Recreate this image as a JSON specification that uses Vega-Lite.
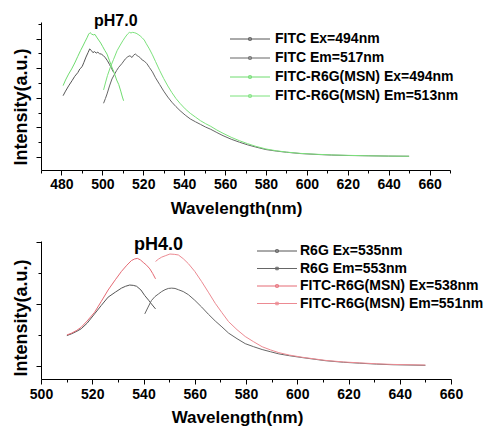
{
  "$schema": "https://vega.github.io/schema/vega-lite/v6.json",
  "padding": {"left": 11, "top": 13, "right": 5, "bottom": 3},
  "background": "white",
  "bounds": "flush",
  "spacing": 71,
  "config": {
    "view": {"stroke": null},
    "font": "Liberation Sans",
    "axis": {"grid": false, "domainColor": "#000", "tickColor": "#000", "labelColor": "#000", "titleColor": "#000", "labelFont": "Liberation Sans", "titleFont": "Liberation Sans", "labelFontWeight": "bold", "titleFontWeight": "bold", "domainWidth": 1, "tickWidth": 1}
  },
  "resolve": {"scale": {"color": "independent"}},
  "datasets": {
    "top": [
      {"s":"FITC Ex=494nm","wl":480.8,"v":4.14},{"s":"FITC Ex=494nm","wl":482,"v":4.45},{"s":"FITC Ex=494nm","wl":483.5,"v":4.8},{"s":"FITC Ex=494nm","wl":485.2,"v":5.16},{"s":"FITC Ex=494nm","wl":486.5,"v":5.45},{"s":"FITC Ex=494nm","wl":488,"v":5.7},{"s":"FITC Ex=494nm","wl":489,"v":5.95},{"s":"FITC Ex=494nm","wl":490.1,"v":6.1},{"s":"FITC Ex=494nm","wl":491,"v":6.4},{"s":"FITC Ex=494nm","wl":492,"v":6.75},{"s":"FITC Ex=494nm","wl":493,"v":7.05},{"s":"FITC Ex=494nm","wl":493.8,"v":7.3},{"s":"FITC Ex=494nm","wl":494.6,"v":7.2},{"s":"FITC Ex=494nm","wl":495.4,"v":7.05},{"s":"FITC Ex=494nm","wl":496.2,"v":7.12},{"s":"FITC Ex=494nm","wl":497,"v":7.02},{"s":"FITC Ex=494nm","wl":497.8,"v":7.08},{"s":"FITC Ex=494nm","wl":498.6,"v":6.98},{"s":"FITC Ex=494nm","wl":499.5,"v":6.95},{"s":"FITC Ex=494nm","wl":500.5,"v":6.85},{"s":"FITC Ex=494nm","wl":501.5,"v":6.7},{"s":"FITC Ex=494nm","wl":502.5,"v":6.5},{"s":"FITC Ex=494nm","wl":503.5,"v":6.25},{"s":"FITC Ex=494nm","wl":504.5,"v":5.98},{"s":"FITC Ex=494nm","wl":505.5,"v":5.72},
      {"s":"FITC Em=517nm","wl":500.6,"v":3.63},{"s":"FITC Em=517nm","wl":501.5,"v":3.95},{"s":"FITC Em=517nm","wl":502.3,"v":4.26},{"s":"FITC Em=517nm","wl":503.5,"v":4.8},{"s":"FITC Em=517nm","wl":504.7,"v":5.27},{"s":"FITC Em=517nm","wl":506,"v":5.6},{"s":"FITC Em=517nm","wl":507,"v":5.85},{"s":"FITC Em=517nm","wl":508,"v":6.06},{"s":"FITC Em=517nm","wl":509.5,"v":6.3},{"s":"FITC Em=517nm","wl":511.2,"v":6.62},{"s":"FITC Em=517nm","wl":512.5,"v":6.78},{"s":"FITC Em=517nm","wl":513.5,"v":6.84},{"s":"FITC Em=517nm","wl":514.5,"v":6.72},{"s":"FITC Em=517nm","wl":515.3,"v":6.88},{"s":"FITC Em=517nm","wl":516.1,"v":6.96},{"s":"FITC Em=517nm","wl":517,"v":6.85},{"s":"FITC Em=517nm","wl":517.8,"v":6.78},{"s":"FITC Em=517nm","wl":518.6,"v":6.7},{"s":"FITC Em=517nm","wl":519.5,"v":6.55},{"s":"FITC Em=517nm","wl":520.5,"v":6.48},{"s":"FITC Em=517nm","wl":521.8,"v":6.3},{"s":"FITC Em=517nm","wl":523,"v":6.05},{"s":"FITC Em=517nm","wl":524.5,"v":5.75},{"s":"FITC Em=517nm","wl":526,"v":5.35},{"s":"FITC Em=517nm","wl":528,"v":4.9},{"s":"FITC Em=517nm","wl":530,"v":4.45},{"s":"FITC Em=517nm","wl":532,"v":4.05},{"s":"FITC Em=517nm","wl":534,"v":3.7},{"s":"FITC Em=517nm","wl":536,"v":3.4},{"s":"FITC Em=517nm","wl":538,"v":3.13},{"s":"FITC Em=517nm","wl":540.5,"v":2.83},{"s":"FITC Em=517nm","wl":543,"v":2.57},{"s":"FITC Em=517nm","wl":545.5,"v":2.38},{"s":"FITC Em=517nm","wl":548,"v":2.2},{"s":"FITC Em=517nm","wl":550.5,"v":2.02},{"s":"FITC Em=517nm","wl":553,"v":1.87},{"s":"FITC Em=517nm","wl":556,"v":1.65},{"s":"FITC Em=517nm","wl":559,"v":1.44},{"s":"FITC Em=517nm","wl":563,"v":1.2},{"s":"FITC Em=517nm","wl":567,"v":1.0},{"s":"FITC Em=517nm","wl":571,"v":0.82},{"s":"FITC Em=517nm","wl":575,"v":0.67},{"s":"FITC Em=517nm","wl":580,"v":0.5},{"s":"FITC Em=517nm","wl":585,"v":0.4},{"s":"FITC Em=517nm","wl":590,"v":0.32},{"s":"FITC Em=517nm","wl":597,"v":0.23},{"s":"FITC Em=517nm","wl":605,"v":0.17},{"s":"FITC Em=517nm","wl":612,"v":0.13},{"s":"FITC Em=517nm","wl":620,"v":0.1},{"s":"FITC Em=517nm","wl":630,"v":0.08},{"s":"FITC Em=517nm","wl":640,"v":0.06},{"s":"FITC Em=517nm","wl":650,"v":0.05},
      {"s":"FITC-R6G(MSN) Ex=494nm","wl":480.8,"v":4.82},{"s":"FITC-R6G(MSN) Ex=494nm","wl":482,"v":5.2},{"s":"FITC-R6G(MSN) Ex=494nm","wl":483.5,"v":5.6},{"s":"FITC-R6G(MSN) Ex=494nm","wl":485,"v":5.95},{"s":"FITC-R6G(MSN) Ex=494nm","wl":486.5,"v":6.35},{"s":"FITC-R6G(MSN) Ex=494nm","wl":488,"v":6.8},{"s":"FITC-R6G(MSN) Ex=494nm","wl":489.3,"v":7.18},{"s":"FITC-R6G(MSN) Ex=494nm","wl":490.5,"v":7.5},{"s":"FITC-R6G(MSN) Ex=494nm","wl":491.5,"v":7.78},{"s":"FITC-R6G(MSN) Ex=494nm","wl":492.5,"v":8.05},{"s":"FITC-R6G(MSN) Ex=494nm","wl":493.3,"v":8.3},{"s":"FITC-R6G(MSN) Ex=494nm","wl":494,"v":8.4},{"s":"FITC-R6G(MSN) Ex=494nm","wl":494.8,"v":8.3},{"s":"FITC-R6G(MSN) Ex=494nm","wl":495.6,"v":8.25},{"s":"FITC-R6G(MSN) Ex=494nm","wl":496.4,"v":8.28},{"s":"FITC-R6G(MSN) Ex=494nm","wl":497.2,"v":8.1},{"s":"FITC-R6G(MSN) Ex=494nm","wl":498.2,"v":7.9},{"s":"FITC-R6G(MSN) Ex=494nm","wl":499.2,"v":7.7},{"s":"FITC-R6G(MSN) Ex=494nm","wl":500.2,"v":7.45},{"s":"FITC-R6G(MSN) Ex=494nm","wl":501.2,"v":7.2},{"s":"FITC-R6G(MSN) Ex=494nm","wl":502.3,"v":6.95},{"s":"FITC-R6G(MSN) Ex=494nm","wl":503.5,"v":6.5},{"s":"FITC-R6G(MSN) Ex=494nm","wl":504.7,"v":6.06},{"s":"FITC-R6G(MSN) Ex=494nm","wl":506,"v":5.6},{"s":"FITC-R6G(MSN) Ex=494nm","wl":507,"v":5.2},{"s":"FITC-R6G(MSN) Ex=494nm","wl":508,"v":4.9},{"s":"FITC-R6G(MSN) Ex=494nm","wl":509,"v":4.45},{"s":"FITC-R6G(MSN) Ex=494nm","wl":509.8,"v":4.05},{"s":"FITC-R6G(MSN) Ex=494nm","wl":510.4,"v":3.8},
      {"s":"FITC-R6G(MSN) Em=513nm","wl":500.6,"v":4.53},{"s":"FITC-R6G(MSN) Em=513nm","wl":501.5,"v":5.0},{"s":"FITC-R6G(MSN) Em=513nm","wl":502.5,"v":5.5},{"s":"FITC-R6G(MSN) Em=513nm","wl":503.9,"v":6.06},{"s":"FITC-R6G(MSN) Em=513nm","wl":505.5,"v":6.6},{"s":"FITC-R6G(MSN) Em=513nm","wl":507.2,"v":7.18},{"s":"FITC-R6G(MSN) Em=513nm","wl":508.5,"v":7.5},{"s":"FITC-R6G(MSN) Em=513nm","wl":510,"v":7.85},{"s":"FITC-R6G(MSN) Em=513nm","wl":511.2,"v":8.1},{"s":"FITC-R6G(MSN) Em=513nm","wl":512.3,"v":8.3},{"s":"FITC-R6G(MSN) Em=513nm","wl":513.2,"v":8.42},{"s":"FITC-R6G(MSN) Em=513nm","wl":514,"v":8.38},{"s":"FITC-R6G(MSN) Em=513nm","wl":514.8,"v":8.42},{"s":"FITC-R6G(MSN) Em=513nm","wl":515.6,"v":8.4},{"s":"FITC-R6G(MSN) Em=513nm","wl":516.5,"v":8.36},{"s":"FITC-R6G(MSN) Em=513nm","wl":517.5,"v":8.28},{"s":"FITC-R6G(MSN) Em=513nm","wl":518.5,"v":8.18},{"s":"FITC-R6G(MSN) Em=513nm","wl":519.5,"v":8.05},{"s":"FITC-R6G(MSN) Em=513nm","wl":520.5,"v":7.9},{"s":"FITC-R6G(MSN) Em=513nm","wl":521.5,"v":7.65},{"s":"FITC-R6G(MSN) Em=513nm","wl":523,"v":7.3},{"s":"FITC-R6G(MSN) Em=513nm","wl":524.5,"v":6.9},{"s":"FITC-R6G(MSN) Em=513nm","wl":526,"v":6.45},{"s":"FITC-R6G(MSN) Em=513nm","wl":528,"v":5.85},{"s":"FITC-R6G(MSN) Em=513nm","wl":530,"v":5.3},{"s":"FITC-R6G(MSN) Em=513nm","wl":532,"v":4.8},{"s":"FITC-R6G(MSN) Em=513nm","wl":534,"v":4.35},{"s":"FITC-R6G(MSN) Em=513nm","wl":536,"v":3.95},{"s":"FITC-R6G(MSN) Em=513nm","wl":538,"v":3.62},{"s":"FITC-R6G(MSN) Em=513nm","wl":540.5,"v":3.25},{"s":"FITC-R6G(MSN) Em=513nm","wl":543,"v":2.95},{"s":"FITC-R6G(MSN) Em=513nm","wl":545.5,"v":2.7},{"s":"FITC-R6G(MSN) Em=513nm","wl":548,"v":2.45},{"s":"FITC-R6G(MSN) Em=513nm","wl":550.5,"v":2.25},{"s":"FITC-R6G(MSN) Em=513nm","wl":553,"v":2.07},{"s":"FITC-R6G(MSN) Em=513nm","wl":556,"v":1.82},{"s":"FITC-R6G(MSN) Em=513nm","wl":559,"v":1.6},{"s":"FITC-R6G(MSN) Em=513nm","wl":563,"v":1.33},{"s":"FITC-R6G(MSN) Em=513nm","wl":567,"v":1.1},{"s":"FITC-R6G(MSN) Em=513nm","wl":571,"v":0.9},{"s":"FITC-R6G(MSN) Em=513nm","wl":575,"v":0.72},{"s":"FITC-R6G(MSN) Em=513nm","wl":580,"v":0.54},{"s":"FITC-R6G(MSN) Em=513nm","wl":585,"v":0.42},{"s":"FITC-R6G(MSN) Em=513nm","wl":590,"v":0.33},{"s":"FITC-R6G(MSN) Em=513nm","wl":597,"v":0.24},{"s":"FITC-R6G(MSN) Em=513nm","wl":605,"v":0.18},{"s":"FITC-R6G(MSN) Em=513nm","wl":612,"v":0.14},{"s":"FITC-R6G(MSN) Em=513nm","wl":620,"v":0.11},{"s":"FITC-R6G(MSN) Em=513nm","wl":630,"v":0.08},{"s":"FITC-R6G(MSN) Em=513nm","wl":640,"v":0.06},{"s":"FITC-R6G(MSN) Em=513nm","wl":650,"v":0.05}
    ],
    "bottom": [
      {"s":"R6G Ex=535nm","wl":510.1,"v":0.98},{"s":"R6G Ex=535nm","wl":512,"v":1.04},{"s":"R6G Ex=535nm","wl":514,"v":1.12},{"s":"R6G Ex=535nm","wl":515.7,"v":1.2},{"s":"R6G Ex=535nm","wl":518,"v":1.38},{"s":"R6G Ex=535nm","wl":520.9,"v":1.68},{"s":"R6G Ex=535nm","wl":523.5,"v":1.95},{"s":"R6G Ex=535nm","wl":526.2,"v":2.22},{"s":"R6G Ex=535nm","wl":529,"v":2.38},{"s":"R6G Ex=535nm","wl":531.4,"v":2.51},{"s":"R6G Ex=535nm","wl":533,"v":2.57},{"s":"R6G Ex=535nm","wl":534.6,"v":2.61},{"s":"R6G Ex=535nm","wl":536,"v":2.6},{"s":"R6G Ex=535nm","wl":537.3,"v":2.57},{"s":"R6G Ex=535nm","wl":539,"v":2.45},{"s":"R6G Ex=535nm","wl":540.5,"v":2.27},{"s":"R6G Ex=535nm","wl":542,"v":2.12},{"s":"R6G Ex=535nm","wl":543.1,"v":2.0},{"s":"R6G Ex=535nm","wl":544.7,"v":1.84},
      {"s":"R6G Em=553nm","wl":540.5,"v":1.68},{"s":"R6G Em=553nm","wl":541.8,"v":1.9},{"s":"R6G Em=553nm","wl":543.1,"v":2.11},{"s":"R6G Em=553nm","wl":544.5,"v":2.24},{"s":"R6G Em=553nm","wl":545.8,"v":2.32},{"s":"R6G Em=553nm","wl":547.1,"v":2.4},{"s":"R6G Em=553nm","wl":548.4,"v":2.46},{"s":"R6G Em=553nm","wl":549.7,"v":2.5},{"s":"R6G Em=553nm","wl":551,"v":2.51},{"s":"R6G Em=553nm","wl":552.3,"v":2.5},{"s":"R6G Em=553nm","wl":553.6,"v":2.46},{"s":"R6G Em=553nm","wl":555.5,"v":2.4},{"s":"R6G Em=553nm","wl":557.5,"v":2.3},{"s":"R6G Em=553nm","wl":560,"v":2.12},{"s":"R6G Em=553nm","wl":562.7,"v":1.9},{"s":"R6G Em=553nm","wl":565.3,"v":1.67},{"s":"R6G Em=553nm","wl":568,"v":1.45},{"s":"R6G Em=553nm","wl":570.6,"v":1.26},{"s":"R6G Em=553nm","wl":573.2,"v":1.06},{"s":"R6G Em=553nm","wl":576.5,"v":0.88},{"s":"R6G Em=553nm","wl":579.7,"v":0.72},{"s":"R6G Em=553nm","wl":583,"v":0.62},{"s":"R6G Em=553nm","wl":586.3,"v":0.53},{"s":"R6G Em=553nm","wl":589.5,"v":0.46},{"s":"R6G Em=553nm","wl":592.8,"v":0.39},{"s":"R6G Em=553nm","wl":597,"v":0.33},{"s":"R6G Em=553nm","wl":602,"v":0.27},{"s":"R6G Em=553nm","wl":611,"v":0.17},{"s":"R6G Em=553nm","wl":618,"v":0.12},{"s":"R6G Em=553nm","wl":624.2,"v":0.09},{"s":"R6G Em=553nm","wl":631,"v":0.06},{"s":"R6G Em=553nm","wl":637.3,"v":0.04},{"s":"R6G Em=553nm","wl":644,"v":0.03},{"s":"R6G Em=553nm","wl":650,"v":0.02},
      {"s":"FITC-R6G(MSN) Ex=538nm","wl":510.1,"v":1.0},{"s":"FITC-R6G(MSN) Ex=538nm","wl":512,"v":1.06},{"s":"FITC-R6G(MSN) Ex=538nm","wl":514,"v":1.15},{"s":"FITC-R6G(MSN) Ex=538nm","wl":515.7,"v":1.25},{"s":"FITC-R6G(MSN) Ex=538nm","wl":518,"v":1.45},{"s":"FITC-R6G(MSN) Ex=538nm","wl":520.9,"v":1.73},{"s":"FITC-R6G(MSN) Ex=538nm","wl":523.5,"v":2.08},{"s":"FITC-R6G(MSN) Ex=538nm","wl":526.2,"v":2.45},{"s":"FITC-R6G(MSN) Ex=538nm","wl":529,"v":2.78},{"s":"FITC-R6G(MSN) Ex=538nm","wl":531.4,"v":3.05},{"s":"FITC-R6G(MSN) Ex=538nm","wl":533.5,"v":3.25},{"s":"FITC-R6G(MSN) Ex=538nm","wl":535.3,"v":3.4},{"s":"FITC-R6G(MSN) Ex=538nm","wl":536.5,"v":3.45},{"s":"FITC-R6G(MSN) Ex=538nm","wl":537.6,"v":3.47},{"s":"FITC-R6G(MSN) Ex=538nm","wl":538.8,"v":3.42},{"s":"FITC-R6G(MSN) Ex=538nm","wl":539.9,"v":3.34},{"s":"FITC-R6G(MSN) Ex=538nm","wl":541.2,"v":3.25},{"s":"FITC-R6G(MSN) Ex=538nm","wl":542.5,"v":3.13},{"s":"FITC-R6G(MSN) Ex=538nm","wl":543.6,"v":2.98},{"s":"FITC-R6G(MSN) Ex=538nm","wl":544.7,"v":2.81},
      {"s":"FITC-R6G(MSN) Em=551nm","wl":544.7,"v":3.37},{"s":"FITC-R6G(MSN) Em=551nm","wl":545.9,"v":3.45},{"s":"FITC-R6G(MSN) Em=551nm","wl":547.1,"v":3.51},{"s":"FITC-R6G(MSN) Em=551nm","wl":548.7,"v":3.56},{"s":"FITC-R6G(MSN) Em=551nm","wl":550.3,"v":3.61},{"s":"FITC-R6G(MSN) Em=551nm","wl":552,"v":3.6},{"s":"FITC-R6G(MSN) Em=551nm","wl":553.6,"v":3.58},{"s":"FITC-R6G(MSN) Em=551nm","wl":555.5,"v":3.46},{"s":"FITC-R6G(MSN) Em=551nm","wl":557.5,"v":3.3},{"s":"FITC-R6G(MSN) Em=551nm","wl":560,"v":3.05},{"s":"FITC-R6G(MSN) Em=551nm","wl":562.7,"v":2.72},{"s":"FITC-R6G(MSN) Em=551nm","wl":565.3,"v":2.38},{"s":"FITC-R6G(MSN) Em=551nm","wl":568,"v":2.02},{"s":"FITC-R6G(MSN) Em=551nm","wl":570.6,"v":1.72},{"s":"FITC-R6G(MSN) Em=551nm","wl":573.2,"v":1.43},{"s":"FITC-R6G(MSN) Em=551nm","wl":576.5,"v":1.17},{"s":"FITC-R6G(MSN) Em=551nm","wl":579.7,"v":0.95},{"s":"FITC-R6G(MSN) Em=551nm","wl":583,"v":0.78},{"s":"FITC-R6G(MSN) Em=551nm","wl":586.3,"v":0.62},{"s":"FITC-R6G(MSN) Em=551nm","wl":589.5,"v":0.52},{"s":"FITC-R6G(MSN) Em=551nm","wl":592.8,"v":0.43},{"s":"FITC-R6G(MSN) Em=551nm","wl":597,"v":0.35},{"s":"FITC-R6G(MSN) Em=551nm","wl":602,"v":0.28},{"s":"FITC-R6G(MSN) Em=551nm","wl":611,"v":0.18},{"s":"FITC-R6G(MSN) Em=551nm","wl":618,"v":0.13},{"s":"FITC-R6G(MSN) Em=551nm","wl":624.2,"v":0.1},{"s":"FITC-R6G(MSN) Em=551nm","wl":631,"v":0.07},{"s":"FITC-R6G(MSN) Em=551nm","wl":637.3,"v":0.05},{"s":"FITC-R6G(MSN) Em=551nm","wl":644,"v":0.04},{"s":"FITC-R6G(MSN) Em=551nm","wl":650,"v":0.03}
    ]
  },
  "vconcat": [
    {
      "width": 409, "height": 148,
      "title": {"text": "pH7.0", "anchor": "start", "frame": "group", "dx": 53, "dy": 2, "offset": -18, "baseline": "alphabetic", "fontSize": 16, "fontWeight": "bold", "font": "Liberation Sans", "color": "#000"},
      "data": {"name": "top"},
      "mark": {"type": "line", "strokeWidth": 1},
      "encoding": {
        "x": {"field": "wl", "type": "quantitative",
          "scale": {"domain": [470, 670], "nice": false, "zero": false},
          "axis": {"title": "Wavelength(nm)", "values": [470,480,490,500,510,520,530,540,550,560,570,580,590,600,610,620,630,640,650,660,670],
            "labelExpr": "datum.value % 20 == 0 ? datum.label : ''",
            "tickSize": {"condition": {"test": "datum.value % 20 == 0", "value": 5}, "value": 3},
            "labelFontSize": 14, "labelPadding": 2, "labelFlush": false, "labelOverlap": false,
            "titleFontSize": 17, "titleX": 195, "titleY": 43, "titleBaseline": "alphabetic", "titleAlign": "center"}},
        "y": {"field": "v", "type": "quantitative",
          "scale": {"domain": [-0.88, 9.12], "nice": false, "zero": false},
          "axis": {"title": "Intensity(a.u.)", "values": [0,1,2,3,4,5,6,7,8,9], "labels": false,
            "tickSize": {"condition": {"test": "datum.value % 2 == 0", "value": 5}, "value": 3},
            "titleFontSize": 18, "titleX": -15, "titleY": 84.5, "titleAngle": -90, "titleBaseline": "alphabetic", "titleAlign": "center"}},
        "color": {"field": "s", "type": "nominal",
          "scale": {"domain": ["FITC Ex=494nm", "FITC Em=517nm", "FITC-R6G(MSN) Ex=494nm", "FITC-R6G(MSN) Em=513nm"], "range": ["#555555", "#666666", "#6fdc6f", "#7ce27c"]},
          "legend": {"orient": "none", "legendX": 187, "legendY": 10, "title": null,
            "symbolType": "M-1,0H7M2.75,-0.25H3.25V0.25H2.75Z", "symbolSize": 100, "symbolStrokeWidth": 1,
            "labelFontSize": 14, "labelFont": "Liberation Sans", "labelFontWeight": "bold", "labelColor": "#000", "labelLimit": 400,
            "labelOffset": 33, "rowPadding": 5}}
      }
    },
    {
      "width": 410, "height": 138,
      "title": {"text": "pH4.0", "anchor": "start", "frame": "group", "dx": 93, "dy": 8, "offset": -19, "baseline": "alphabetic", "fontSize": 18, "fontWeight": "bold", "font": "Liberation Sans", "color": "#000"},
      "data": {"name": "bottom"},
      "mark": {"type": "line", "strokeWidth": 1},
      "encoding": {
        "x": {"field": "wl", "type": "quantitative",
          "scale": {"domain": [500, 660], "nice": false, "zero": false},
          "axis": {"title": "Wavelength(nm)", "values": [500,510,520,530,540,550,560,570,580,590,600,610,620,630,640,650,660],
            "labelExpr": "datum.value % 20 == 0 ? datum.label : ''",
            "tickSize": {"condition": {"test": "datum.value % 20 == 0", "value": 5}, "value": 3},
            "labelFontSize": 14, "labelPadding": 3, "labelFlush": false, "labelOverlap": false,
            "titleFontSize": 17, "titleX": 196, "titleY": 43, "titleBaseline": "alphabetic", "titleAlign": "center"}},
        "y": {"field": "v", "type": "quantitative",
          "scale": {"domain": [-0.42, 4.03], "nice": false, "zero": false},
          "axis": {"title": "Intensity(a.u.)", "values": [0,1,2,3,4], "labels": false,
            "tickSize": {"condition": {"test": "datum.value % 2 == 0", "value": 5}, "value": 3},
            "titleFontSize": 18, "titleX": -15, "titleY": 76.5, "titleAngle": -90, "titleBaseline": "alphabetic", "titleAlign": "center"}},
        "color": {"field": "s", "type": "nominal",
          "scale": {"domain": ["R6G Ex=535nm", "R6G Em=553nm", "FITC-R6G(MSN) Ex=538nm", "FITC-R6G(MSN) Em=551nm"], "range": ["#555555", "#666666", "#e56a74", "#ec8a92"]},
          "legend": {"orient": "none", "legendX": 214, "legendY": 3, "title": null,
            "symbolType": "M-1,0H7M2.75,-0.25H3.25V0.25H2.75Z", "symbolSize": 100, "symbolStrokeWidth": 1,
            "labelFontSize": 14, "labelFont": "Liberation Sans", "labelFontWeight": "bold", "labelColor": "#000", "labelLimit": 400,
            "labelOffset": 31, "rowPadding": 3.5}}
      }
    }
  ]
}
